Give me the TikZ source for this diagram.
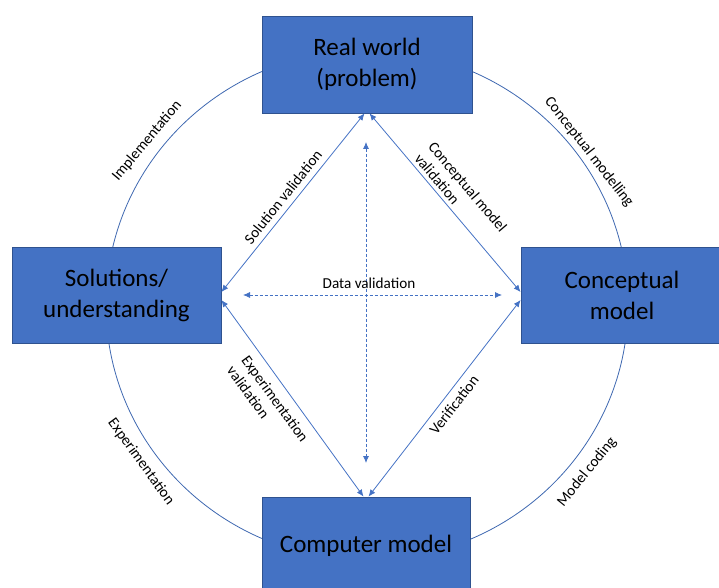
\documentclass[tikz,border=0pt]{standalone}
\usepackage{fontspec}
\setmainfont{Carlito}
\usetikzlibrary{arrows.meta}
\definecolor{boxblue}{HTML}{4472C4}
\definecolor{boxedge}{HTML}{2F528F}
\begin{document}
\begin{tikzpicture}[
       x=1pt, y=-1pt,
       line width=0.8pt,
       stage/.style={
         rectangle,
         fill=boxblue,
         draw=boxedge,
         text=black,
         align=center,
         inner sep=0pt,
         font=\fontsize{25}{31}\selectfont
       },
       link/.style={
         draw=boxblue,
         {Latex[length=7pt,width=6pt]}-{Latex[length=7pt,width=6pt]}
       },
       dashline/.style={
         link,
         dash pattern=on 3pt off 2pt
       },
       tag/.style={
         inner sep=0pt,
         align=left,
         font=\fontsize{15.2}{18}\selectfont
       }
     ]
       \useasboundingbox (0,0) rectangle (719,588);

       % the cycle
       \draw[boxblue!90!black] (367,305) ellipse [x radius=261pt, y radius=255pt];

       \node (real) at (367,64.5) [stage,minimum width=210pt,minimum height=97pt]{Real world\\(problem)};
       \node (sol) at (116.5,295) [stage,minimum width=209pt,minimum height=96pt]{Solutions/\\understanding};
       \node (conc) at (626,295) [stage,minimum width=210pt,minimum height=96pt]{\hspace*{-8pt}Conceptual\\\hspace*{-8pt}model};
       \node (comp) at (366,545.5) [stage,minimum width=208pt,minimum height=97pt]{Computer model};

       \coordinate (dtop) at (366,142);
       \coordinate (dbot) at (366,463);
       \coordinate (dleft) at (243,295);
       \coordinate (dright) at (502,295);

       \draw[link] ([yshift=3pt]sol.east) -- ([xshift=-2.5pt]real.south);
       \draw[link] ([xshift=2.5pt]real.south) -- ([yshift=3pt]conc.west);
       \draw[link] ([yshift=-5pt]sol.east) -- ([xshift=-2.5pt]comp.north);
       \draw[link] ([xshift=2.5pt]comp.north) -- ([yshift=-5pt]conc.west);

       \draw[dashline] (dtop) -- (dbot);
       \draw[dashline] (dleft) -- (dright);

       % inner labels
       \node (dval) at (369,283) [tag]{Data validation};
       \node (solval) at (283,197) [tag,rotate=51.4]{Solution validation};
       \node (concval) at (461,193) [tag,rotate=-49.7]{Conceptual model\\validation};
       \node (expval) at (268,404) [tag,rotate=-54]{Experimentation\\validation};
       \node (verif) at (454,405) [tag,rotate=52.4]{Verification};

       % outer labels
       \node (impl) at (147,141) [tag,rotate=50]{Implementation};
       \node (cmod) at (589,152) [tag,rotate=-52]{Conceptual modelling};
       \node (expe) at (141,462) [tag,rotate=-54]{Experimentation};
       \node (mcod) at (587,472) [tag,rotate=51]{Model coding};

\end{tikzpicture}
\end{document}
